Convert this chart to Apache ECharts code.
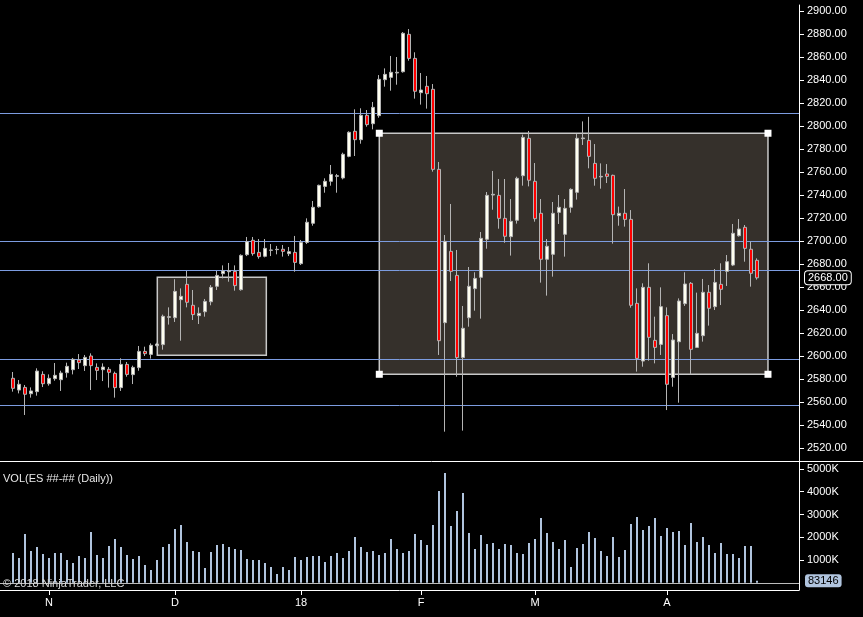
<!DOCTYPE html>
<html><head><meta charset="utf-8">
<script src="https://cdn.jsdelivr.net/npm/echarts@6/dist/echarts.min.js"></script>
<style>html,body{margin:0;padding:0;background:#000;}#c{width:863px;height:617px;}</style>
</head><body><div id="c"></div>
<script>
const opens = [2580.6,2570.4,2572.7,2567.2,2569.0,2584.0,2575.9,2580.3,2579.4,2585.5,2588.1,2596.5,2591.6,2600.0,2590.1,2588.1,2588.4,2584.9,2572.5,2592.7,2583.8,2589.9,2604.0,2601.4,2609.0,2609.9,2633.6,2633.3,2649.0,2662.3,2644.1,2635.1,2638.5,2647.2,2660.6,2671.6,2673.3,2673.6,2657.7,2688.1,2700.6,2690.1,2686.7,2691.9,2692.5,2692.8,2689.0,2690.1,2680.3,2698.8,2715.4,2729.8,2747.5,2751.9,2756.2,2754.8,2773.6,2795.4,2788.1,2809.3,2802.0,2809.0,2840.3,2842.3,2846.1,2847.2,2879.7,2858.8,2829.0,2834.5,2831.9,2762.3,2629.0,2691.0,2670.1,2598.6,2633.3,2658.6,2668.4,2701.5,2740.0,2739.7,2719.7,2703.8,2718.0,2756.8,2789.3,2751.9,2724.1,2684.1,2688.4,2724.9,2705.8,2729.3,2742.3,2789.0,2787.5,2767.5,2755.7,2758.3,2757.1,2722.0,2724.1,2718.8,2645.8,2595.6,2659.7,2613.6,2610.1,2635.1,2581.4,2612.4,2645.5,2663.2,2607.5,2617.7,2655.4,2642.9,2662.3,2673.6,2679.1,2704.6,2711.9,2692.8,2683.2];
const closes = [2571.9,2575.4,2566.7,2569.6,2586.9,2575.9,2580.6,2583.2,2585.2,2591.0,2597.1,2594.2,2598.8,2591.6,2587.5,2590.4,2585.8,2572.5,2592.7,2584.0,2590.1,2604.0,2602.0,2609.3,2610.4,2634.5,2634.2,2656.2,2651.9,2646.7,2636.0,2637.1,2647.5,2659.7,2670.1,2673.9,2674.2,2661.2,2687.5,2699.4,2689.0,2686.4,2693.6,2692.2,2692.8,2691.0,2690.7,2681.4,2698.8,2716.3,2729.3,2748.4,2751.9,2757.9,2756.8,2775.4,2794.5,2788.1,2809.3,2801.2,2816.2,2840.6,2844.9,2846.7,2846.7,2880.6,2858.8,2830.2,2831.3,2828.1,2762.3,2613.3,2699.7,2673.6,2598.6,2624.1,2660.6,2667.5,2702.3,2739.7,2740.6,2719.7,2704.1,2717.1,2754.5,2790.1,2752.8,2719.4,2684.1,2695.4,2724.1,2729.3,2728.4,2744.9,2789.3,2789.6,2773.6,2754.5,2756.2,2756.2,2722.9,2724.1,2718.8,2644.1,2597.9,2659.7,2616.2,2607.5,2642.9,2575.4,2613.9,2647.8,2662.6,2605.8,2619.7,2655.4,2641.5,2664.0,2658.0,2682.0,2706.7,2710.4,2693.6,2671.9,2668.0];
const highs = [2586.1,2579.1,2574.8,2572.7,2589.3,2586.7,2584.0,2593.9,2587.2,2594.2,2598.3,2601.7,2600.9,2602.3,2593.6,2593.6,2590.4,2586.4,2598.0,2594.8,2591.6,2608.7,2608.1,2611.0,2611.5,2636.0,2642.3,2666.7,2658.8,2673.9,2657.4,2642.3,2649.6,2661.7,2673.9,2678.8,2680.9,2678.8,2688.4,2703.5,2703.5,2701.7,2701.7,2697.4,2695.7,2696.5,2694.8,2704.4,2700.9,2719.7,2734.8,2749.0,2754.5,2766.1,2758.3,2776.8,2795.4,2814.5,2815.4,2813.9,2820.9,2844.3,2850.1,2860.9,2860.0,2881.7,2884.3,2864.1,2846.1,2843.5,2836.5,2768.7,2705.2,2732.2,2692.2,2643.5,2677.4,2672.8,2707.8,2742.6,2760.9,2753.9,2753.9,2736.5,2755.9,2792.5,2795.7,2767.8,2736.5,2701.7,2733.9,2740.0,2736.5,2745.8,2793.0,2804.0,2808.0,2784.3,2767.5,2766.9,2757.7,2729.9,2745.2,2726.9,2658.8,2663.2,2680.6,2634.2,2659.7,2642.3,2619.1,2650.1,2672.8,2664.3,2655.1,2667.0,2661.7,2675.6,2680.6,2687.8,2714.8,2719.1,2713.9,2699.4,2684.9];
const lows = [2569.0,2567.5,2548.7,2563.8,2565.5,2573.0,2574.2,2578.5,2569.6,2581.2,2584.0,2588.7,2587.0,2570.4,2579.1,2578.2,2572.5,2563.8,2569.6,2582.0,2575.6,2587.2,2600.0,2597.7,2608.3,2605.5,2627.3,2629.6,2613.3,2642.3,2631.3,2627.8,2634.2,2644.1,2657.4,2667.5,2664.6,2656.8,2656.8,2686.9,2687.2,2684.6,2685.8,2686.9,2688.4,2686.4,2686.9,2673.3,2679.1,2697.4,2713.3,2729.0,2742.0,2748.1,2742.0,2753.6,2772.8,2773.9,2784.6,2799.4,2797.1,2807.2,2834.2,2830.7,2835.9,2846.4,2856.8,2823.8,2818.6,2815.1,2760.3,2600.9,2534.2,2665.2,2582.0,2535.1,2625.5,2639.4,2632.5,2693.3,2727.2,2710.7,2698.5,2687.3,2715.1,2748.1,2747.5,2716.8,2663.8,2652.5,2669.0,2714.8,2686.4,2724.6,2736.0,2783.5,2763.2,2748.1,2745.5,2750.4,2697.7,2713.3,2712.5,2642.0,2586.4,2590.7,2595.9,2593.6,2600.9,2553.0,2573.3,2559.4,2643.5,2584.1,2607.5,2612.5,2626.4,2640.0,2644.3,2660.9,2678.2,2703.8,2682.0,2660.3,2666.4];
const volumes = [1308000,1088000,2143000,1396000,1571000,1264000,1088000,1308000,1308000,1000000,868000,1176000,1088000,2231000,1220000,1088000,1615000,1923000,1571000,1220000,1044000,1176000,780000,560000,1000000,1571000,1703000,2363000,2538000,1791000,1396000,1352000,648000,1352000,1659000,1703000,1571000,1484000,1440000,1044000,1000000,1000000,868000,692000,385000,692000,560000,1132000,1000000,1132000,1176000,1176000,912000,1176000,1308000,1088000,1396000,2011000,1571000,1352000,1396000,1220000,1308000,1923000,1484000,1308000,1396000,2143000,1879000,1659000,2538000,4033000,4824000,2494000,3154000,3945000,2187000,1484000,2099000,1703000,1747000,1484000,1703000,1659000,1308000,1264000,1747000,1923000,2846000,2187000,1791000,1484000,1879000,692000,1527000,1703000,2231000,1967000,1396000,1176000,2011000,1132000,1440000,2582000,2890000,2319000,2494000,2846000,2055000,2407000,2231000,2275000,1659000,2626000,1791000,2011000,1659000,1308000,1747000,1264000,1264000,1088000,1615000,1615000,83146];
const xTickIdx = [6, 27, 48, 68, 87, 109];
const xTickLabels = ['N', 'D', '18', 'F', 'M', 'A'];
const priceTicks = [2520,2540,2560,2580,2600,2620,2640,2660,2680,2700,2720,2740,2760,2780,2800,2820,2840,2860,2880,2900];
const volTicks = [1000000, 2000000, 3000000, 4000000, 5000000];
const hLines = [2811.0, 2700.0, 2674.5, 2597.1, 2557.4];
// drawn rectangles: [barStart, priceTop, barEnd, priceBottom]
const rects = [[24.05, 2668.4, 42.22, 2600.6], [61.05, 2793.7, 125.83, 2584.1]];

const FONT = 'Liberation Sans, Arial, sans-serif';
const candleData = opens.map((o, i) => [i, o, closes[i], lows[i], highs[i]]);
const volData = volumes.map((v, i) => [i, v]);
const lastClose = closes[closes.length - 1];
const lastVol = volumes[volumes.length - 1];
const sel = rects[1];
const handles = [[sel[0], sel[1]], [sel[2], sel[1]], [sel[2], sel[3]], [sel[0], sel[3]]];

const xMin = -13 / 6, xMax = 131;
const chart = echarts.init(document.getElementById('c'));
chart.setOption({
  backgroundColor: '#000',
  animation: false,
  textStyle: { fontFamily: FONT },
  grid: [
    { left: 0, top: 5, width: 799, height: 456 },
    { left: 0, top: 461, width: 799, height: 129 }
  ],
  xAxis: [
    { type: 'value', gridIndex: 0, min: xMin, max: xMax, show: false, splitLine: { show: false } },
    { type: 'value', gridIndex: 1, min: xMin, max: xMax,
      axisLine: { show: true, onZero: false, lineStyle: { color: '#fff', width: 1 } },
      axisTick: { show: true, length: 5, customValues: xTickIdx, lineStyle: { color: '#fff' } },
      axisLabel: { customValues: xTickIdx, formatter: v => { const k = xTickIdx.indexOf(Math.round(v)); return k >= 0 ? xTickLabels[k] : ''; },
                   color: '#fff', fontSize: 11, margin: 7, fontFamily: FONT },
      splitLine: { show: false } }
  ],
  yAxis: [
    { type: 'value', gridIndex: 0, position: 'right', min: 2900 + 6 / 1.15, max: 2900 + 6 / 1.15, scale: true,
      min: 2900 - 450 / 1.15, max: 2900 + 6 / 1.15,
      axisLine: { show: true, onZero: false, lineStyle: { color: '#fff' } },
      axisTick: { show: true, length: 5, customValues: priceTicks, lineStyle: { color: '#fff' } },
      axisLabel: { customValues: priceTicks, formatter: v => Number(v).toFixed(2), color: '#fff', fontSize: 11, margin: 8, fontFamily: FONT },
      splitLine: { show: false },
      axisPointer: { show: true, type: 'line', value: lastClose, status: 'show', triggerTooltip: false,
        lineStyle: { opacity: 0 },
        label: { show: true, formatter: p => Number(p.value).toFixed(2), backgroundColor: '#000', borderColor: '#fff', borderWidth: 1,
                 color: '#fff', fontSize: 11, padding: [1, 3], margin: 6, fontFamily: FONT } } },
    { type: 'value', gridIndex: 1, position: 'right', min: -318681, max: 5351648,
      axisLine: { show: true, onZero: false, lineStyle: { color: '#fff' } },
      axisTick: { show: true, length: 5, customValues: volTicks, lineStyle: { color: '#fff' } },
      axisLabel: { customValues: volTicks, formatter: v => Math.round(v / 1000) + 'K', color: '#fff', fontSize: 11, margin: 8, fontFamily: FONT },
      splitLine: { show: false },
      axisPointer: { show: true, type: 'line', value: lastVol, status: 'show', triggerTooltip: false,
        lineStyle: { opacity: 0 },
        label: { show: true, formatter: p => String(Math.round(p.value)), backgroundColor: '#b0c4de', color: '#000',
                 fontSize: 11, padding: [1, 3], margin: 6, fontFamily: FONT } } }
  ],
  series: [
    { type: 'line', xAxisIndex: 0, yAxisIndex: 0, data: [], silent: true, z: 1,
      markArea: { silent: true, z: 1,
        itemStyle: { color: '#35302b', borderColor: '#c8c8c8', borderWidth: 1.5 },
        data: rects.map(r => [{ coord: [r[0], r[1]] }, { coord: [r[2], r[3]] }]) } },
    { type: 'line', xAxisIndex: 0, yAxisIndex: 0, data: [], silent: true, z: 2,
      markLine: { silent: true, z: 2, symbol: ['none', 'none'], label: { show: false },
        lineStyle: { color: '#7c9ce0', width: 1, type: 'solid' },
        data: hLines.map(v => ({ yAxis: v })) } },
    { type: 'candlestick', xAxisIndex: 0, yAxisIndex: 0, z: 3, barWidth: 4,
      itemStyle: { color: '#fffff0', color0: '#ff0000', borderColor: '#b4b4b4', borderColor0: '#b4b4b4', borderWidth: 1 },
      data: candleData,
      markPoint: { silent: true, z: 4, symbol: 'rect', symbolSize: 7, label: { show: false },
        itemStyle: { color: '#ffffff' },
        data: handles.map(h => ({ coord: h })) } },
    { type: 'bar', xAxisIndex: 1, yAxisIndex: 1, barWidth: 2, itemStyle: { color: '#b0c4de' },
      data: volData,
      markLine: { silent: true, symbol: ['none', 'none'], label: { show: false },
        lineStyle: { color: '#bcbcbc', width: 1, type: 'solid' }, data: [{ yAxis: 0 }] } }
  ],
  graphic: [
    { type: 'line', shape: { x1: 0, y1: 461.5, x2: 863, y2: 461.5 }, style: { stroke: '#ffffff', lineWidth: 1 }, z: 10 },
    { type: 'text', left: 3, top: 473, style: { text: 'VOL(ES ##-## (Daily))', fill: '#e8e8e8', font: '11px ' + FONT }, z: 10 },
    { type: 'text', left: 3, top: 578, style: { text: '© 2018 NinjaTrader, LLC', fill: '#d8d8d8', font: '11px ' + FONT }, z: 10 }
  ]
});
</script>
</body></html>
